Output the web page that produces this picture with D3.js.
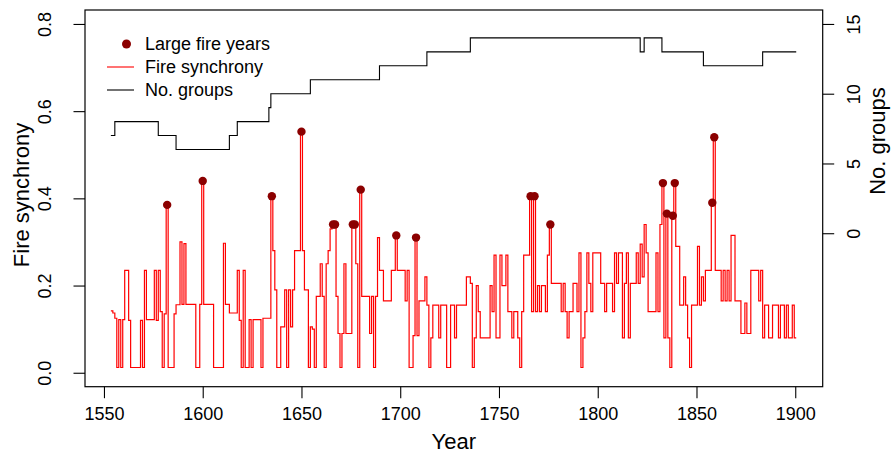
<!DOCTYPE html>
<html lang="en">
<head>
<meta charset="utf-8">
<title>Fire synchrony</title>
<script src="https://d3js.org/d3.v7.min.js"></script>
<style>
  body { margin: 0; background: #fff; }
  svg text { font-family: "Liberation Sans", Arial, Helvetica, sans-serif; fill: #000; }
</style>
</head>
<body>
<svg id="chart" width="893" height="454"></svg>
<script>
// Fire synchrony as runs: value holds from its start year until the next start year
const syncStart = [
  1554, 1555, 1556, 1557, 1558, 1559, 1560, 1561, 1563, 1564, 1569, 1570, 1571, 1572, 1576, 1577,
  1578, 1579, 1580, 1581, 1582, 1583, 1586, 1587, 1589, 1590, 1591, 1592, 1597, 1599, 1600, 1601,
  1606, 1611, 1612, 1614, 1618, 1619, 1620, 1621, 1622, 1624, 1625, 1626, 1630, 1631, 1635, 1636,
  1637, 1638, 1640, 1642, 1643, 1644, 1645, 1646, 1647, 1650, 1651, 1652, 1654, 1655, 1656, 1657,
  1658, 1660, 1661, 1662, 1663, 1664, 1665, 1666, 1668, 1669, 1670, 1671, 1672, 1673, 1676, 1678,
  1679, 1680, 1681, 1685, 1686, 1687, 1688, 1689, 1690, 1692, 1696, 1698, 1699, 1703, 1704, 1705,
  1707, 1708, 1709, 1710, 1713, 1714, 1715, 1716, 1717, 1720, 1721, 1724, 1726, 1728, 1729, 1734,
  1736, 1737, 1738, 1739, 1740, 1741, 1746, 1747, 1748, 1749, 1751, 1752, 1754, 1755, 1757, 1758,
  1760, 1761, 1762, 1763, 1766, 1767, 1768, 1769, 1770, 1771, 1772, 1774, 1775, 1776, 1777, 1782,
  1783, 1784, 1785, 1786, 1788, 1790, 1791, 1792, 1793, 1794, 1795, 1796, 1797, 1798, 1802, 1804,
  1805, 1808, 1809, 1810, 1811, 1813, 1814, 1815, 1816, 1817, 1820, 1821, 1822, 1823, 1824, 1825,
  1826, 1830, 1831, 1832, 1833, 1834, 1835, 1836, 1837, 1838, 1839, 1840, 1842, 1844, 1845, 1846,
  1847, 1848, 1851, 1852, 1853, 1854, 1855, 1858, 1859, 1860, 1863, 1864, 1865, 1866, 1867, 1868,
  1870, 1873, 1875, 1876, 1878, 1882, 1883, 1884, 1885, 1887, 1889, 1892, 1893, 1895, 1896, 1897,
  1899, 1900
];
const syncValue = [
  0.142, 0.137, 0.125, 0.012, 0.122, 0.012, 0.122, 0.235, 0.12, 0.012, 0.12, 0.012, 0.235, 0.122, 0.235, 0.12,
  0.235, 0.14, 0.012, 0.135, 0.385, 0.012, 0.135, 0.156, 0.30, 0.157, 0.296, 0.157, 0.012, 0.157, 0.44, 0.157,
  0.012, 0.297, 0.157, 0.137, 0.235, 0.12, 0.012, 0.235, 0.012, 0.122, 0.012, 0.122, 0.012, 0.125, 0.405, 0.28,
  0.19, 0.012, 0.105, 0.19, 0.012, 0.19, 0.105, 0.19, 0.28, 0.553, 0.28, 0.19, 0.012, 0.105, 0.10, 0.012,
  0.175, 0.25, 0.175, 0.012, 0.25, 0.28, 0.33, 0.34, 0.175, 0.09, 0.012, 0.09, 0.25, 0.09, 0.34, 0.25,
  0.012, 0.42, 0.175, 0.09, 0.175, 0.012, 0.175, 0.31, 0.235, 0.165, 0.235, 0.315, 0.235, 0.165, 0.235, 0.012,
  0.085, 0.31, 0.085, 0.165, 0.22, 0.155, 0.012, 0.08, 0.155, 0.08, 0.155, 0.012, 0.155, 0.08, 0.155, 0.22,
  0.205, 0.012, 0.08, 0.20, 0.14, 0.08, 0.20, 0.14, 0.27, 0.08, 0.27, 0.20, 0.27, 0.14, 0.08, 0.14,
  0.08, 0.012, 0.14, 0.27, 0.405, 0.14, 0.405, 0.14, 0.20, 0.14, 0.20, 0.14, 0.27, 0.34, 0.205, 0.14,
  0.205, 0.14, 0.08, 0.14, 0.205, 0.14, 0.275, 0.012, 0.08, 0.14, 0.275, 0.205, 0.14, 0.275, 0.205, 0.14,
  0.205, 0.14, 0.275, 0.205, 0.275, 0.08, 0.205, 0.275, 0.08, 0.205, 0.275, 0.205, 0.295, 0.22, 0.34, 0.275,
  0.14, 0.275, 0.14, 0.34, 0.435, 0.08, 0.365, 0.08, 0.012, 0.36, 0.435, 0.29, 0.155, 0.22, 0.155, 0.08,
  0.012, 0.155, 0.29, 0.155, 0.22, 0.165, 0.235, 0.39, 0.54, 0.235, 0.165, 0.235, 0.165, 0.235, 0.165, 0.315,
  0.165, 0.09, 0.16, 0.09, 0.235, 0.165, 0.235, 0.08, 0.155, 0.08, 0.155, 0.08, 0.155, 0.08, 0.155, 0.08,
  0.155, 0.08
];
const lastYear = 1900;

// Number of groups as runs
const groupStart = [1554, 1556, 1578, 1587, 1614, 1618, 1634, 1635, 1655, 1690, 1714, 1736, 1822, 1824, 1833, 1854, 1884];
const groupCount = [7, 8, 7, 6, 7, 8, 9, 10, 11, 12, 13, 14, 13, 14, 13, 12, 13];

const largeFireYears = [1582, 1600, 1635, 1650, 1666, 1667, 1676, 1677, 1680, 1698, 1708,
  1766, 1768, 1776, 1833, 1835, 1838, 1839, 1858, 1859];

const xTicks = [1550, 1600, 1650, 1700, 1750, 1800, 1850, 1900];
const yTicks = [0, 0.2, 0.4, 0.6, 0.8];
const groupTicks = [0, 5, 10, 15];

const svg = d3.select("#chart");
const box = { left: 85, right: 822.7, top: 10, bottom: 386.7 };

const x = d3.scaleLinear().domain([1540.4, 1913.9]).range([box.left, box.right]);
const y = d3.scaleLinear().domain([-0.032, 0.832]).range([box.bottom, box.top]);
const yG = d3.scaleLinear().domain([-11, 16]).range([box.bottom, box.top]);

// each year's value spans year-0.5 .. year+0.5
function runPoints(starts, values) {
  const pts = starts.map((s, i) => [s - 0.5, values[i]]);
  pts.push([lastYear + 0.5, values[values.length - 1]]);
  return pts;
}
function valueAt(year) {
  let v = syncValue[0];
  syncStart.forEach((s, i) => { if (s <= year) v = syncValue[i]; });
  return v;
}

const stepSync = d3.line().x(d => x(d[0])).y(d => y(d[1])).curve(d3.curveStepAfter);
const stepGroups = d3.line().x(d => x(d[0])).y(d => yG(d[1])).curve(d3.curveStepAfter);

svg.append("path")
  .datum(runPoints(groupStart, groupCount))
  .attr("d", stepGroups)
  .attr("fill", "none")
  .attr("stroke", "#000")
  .attr("stroke-width", 1.1);

svg.append("path")
  .datum(runPoints(syncStart, syncValue))
  .attr("d", stepSync)
  .attr("fill", "none")
  .attr("stroke", "#ff0000")
  .attr("stroke-width", 1.2);

svg.append("g").selectAll("circle")
  .data(largeFireYears)
  .join("circle")
  .attr("cx", d => x(d))
  .attr("cy", d => y(valueAt(d)))
  .attr("r", 4.2)
  .attr("fill", "#8b0000");

// plot box
svg.append("rect")
  .attr("x", box.left).attr("y", box.top)
  .attr("width", box.right - box.left).attr("height", box.bottom - box.top)
  .attr("fill", "none").attr("stroke", "#000").attr("stroke-width", 1.2);

// axes
const tickLen = 11.5;
const bottom = svg.append("g").attr("transform", `translate(0,${box.bottom})`)
  .call(d3.axisBottom(x).tickValues(xTicks).tickFormat(d3.format("d")).tickSize(tickLen).tickPadding(9));
const left = svg.append("g").attr("transform", `translate(${box.left},0)`)
  .call(d3.axisLeft(y).tickValues(yTicks).tickFormat(d3.format(".1f")).tickSize(tickLen).tickPadding(0));
const right = svg.append("g").attr("transform", `translate(${box.right},0)`)
  .call(d3.axisRight(yG).tickValues(groupTicks).tickFormat(d3.format("d")).tickSize(tickLen).tickPadding(0));

[bottom, left, right].forEach(g => {
  g.select(".domain").remove();
  g.selectAll(".tick line").attr("stroke", "#000").attr("stroke-width", 1.1);
  g.selectAll("text").style("font-size", "18px").attr("fill", "#000");
});
left.selectAll(".tick text")
  .attr("x", null).attr("dy", null)
  .attr("text-anchor", "middle")
  .attr("transform", "translate(-40,0) rotate(-90)")
  .attr("y", 0).attr("dy", "0.35em");
right.selectAll(".tick text")
  .attr("x", null).attr("dy", null)
  .attr("text-anchor", "middle")
  .attr("transform", "translate(31,0) rotate(-90)")
  .attr("y", 0).attr("dy", "0.35em");

// axis titles
svg.append("text")
  .attr("x", (box.left + box.right) / 2).attr("y", 448.5)
  .attr("text-anchor", "middle").style("font-size", "22px")
  .text("Year");
svg.append("text")
  .attr("transform", "translate(29,195) rotate(-90)")
  .attr("text-anchor", "middle").style("font-size", "22px")
  .text("Fire synchrony");
svg.append("text")
  .attr("transform", "translate(885,141) rotate(-90)")
  .attr("text-anchor", "middle").style("font-size", "22px")
  .text("No. groups");

// legend
const legend = svg.append("g");
const rows = [
  { label: "Large fire years", kind: "dot", y: 44 },
  { label: "Fire synchrony", kind: "red", y: 67 },
  { label: "No. groups", kind: "black", y: 90 }
];
rows.forEach(r => {
  if (r.kind === "dot") {
    legend.append("circle").attr("cx", 126.5).attr("cy", r.y).attr("r", 4.5).attr("fill", "#8b0000");
  } else {
    legend.append("line")
      .attr("x1", 107).attr("x2", 134).attr("y1", r.y).attr("y2", r.y)
      .attr("stroke", r.kind === "red" ? "#ff0000" : "#000").attr("stroke-width", 1.1);
  }
  legend.append("text")
    .attr("x", 145).attr("y", r.y).attr("dy", "0.35em")
    .style("font-size", "18px")
    .text(r.label);
});
</script>
</body>
</html>
